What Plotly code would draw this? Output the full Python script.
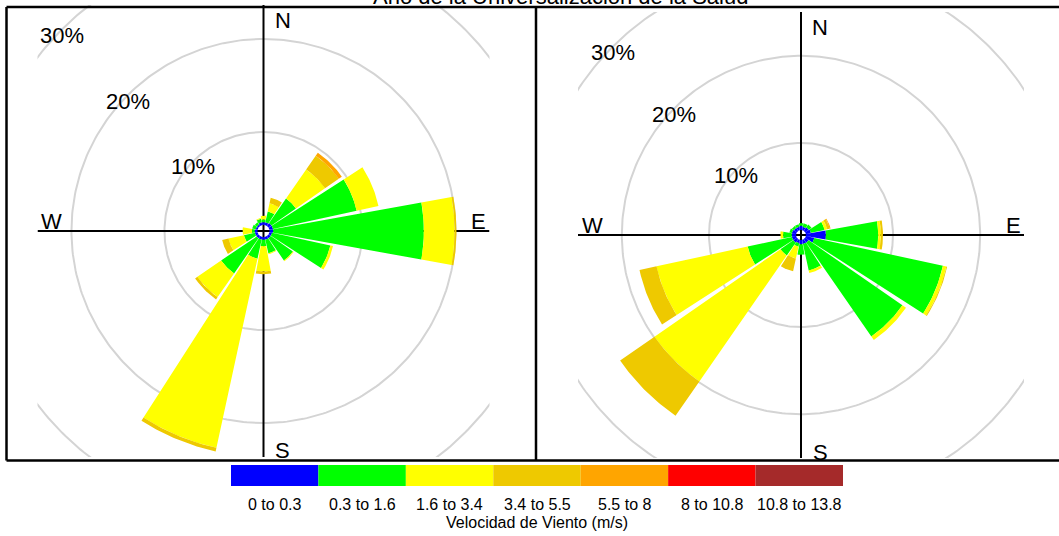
import numpy as np
import plotly.graph_objects as go

# ---------------------------------------------------------------------------
# Data: wind frequency (%) by direction and speed class, two wind roses
# ---------------------------------------------------------------------------
directions = [0, 22.5, 45, 67.5, 90, 112.5, 135, 157.5,
              180, 202.5, 225, 247.5, 270, 292.5, 315, 337.5]

speed_bins = ["0 to 0.3", "0.3 to 1.6", "1.6 to 3.4", "3.4 to 5.5",
              "5.5 to 8", "8 to 10.8", "10.8 to 13.8"]
bin_colors = ["#0000FF", "#00FF00", "#FFFF00", "#EEC900",
              "#FFA500", "#FF0000", "#A52A2A"]

# left rose, one list per speed class (order of `directions`)
left_bin1 = [0.3, 0.3, 0.4, 0.4, 0.4, 0.3, 0.3, 0.3, 0.3, 0.3, 0.3, 0.3, 0.3, 0.2, 0.2, 0.3]
left_bin2 = [0.3, 1.2, 3.2, 9.2, 16.2, 6.4, 2.9, 1.5, 0.7, 2.1, 4.6, 1.2, 0.3, 0.4, 0.3, 0.4]
left_bin3 = [0.4, 0.9, 3.8, 2.4, 3.3, 0.3, 0.1, 0.1, 2.7, 20.8, 3.1, 1.7, 1.0, 0.0, 0.0, 0.1]
left_bin4 = [0.0, 0.6, 1.8, 0.0, 0.2, 0.0, 0.0, 0.0, 0.3, 0.4, 0.3, 0.7, 0.0, 0.0, 0.0, 0.0]
left_bin5 = [0.0, 0.0, 0.4, 0.0, 0.0, 0.0, 0.0, 0.0, 0.0, 0.0, 0.0, 0.0, 0.0, 0.0, 0.0, 0.0]
left_bin6 = [0.0] * 16
left_bin7 = [0.0] * 16

# right rose
right_bin1 = [0.5, 0.4, 0.5, 0.6, 2.3, 1.0, 0.5, 0.5, 0.5, 0.4, 0.5, 0.5, 0.5, 0.5, 0.4, 0.4]
right_bin2 = [0.3, 0.4, 0.4, 1.6, 6.0, 15.1, 13.1, 3.1, 1.2, 0.4, 1.8, 5.2, 1.0, 0.3, 0.3, 0.3]
right_bin3 = [0.0, 0.0, 0.0, 0.3, 0.3, 0.4, 0.5, 0.3, 0.0, 1.4, 17.6, 10.7, 0.3, 0.0, 0.0, 0.0]
right_bin4 = [0.0, 0.0, 0.0, 0.3, 0.25, 0.1, 0.0, 0.0, 0.0, 1.5, 4.8, 2.0, 0.0, 0.0, 0.0, 0.0]
right_bin5 = [0.0, 0.0, 0.0, 0.1, 0.0, 0.0, 0.0, 0.0, 0.0, 0.0, 0.0, 0.0, 0.0, 0.0, 0.0, 0.0]
right_bin6 = [0.0] * 16
right_bin7 = [0.0] * 16

grid_levels = [10, 20, 30]
grid_labels = ["10%", "20%", "30%"]
compass = ["N", "E", "S", "W"]

title_text = "Año de la Universalización de la Salud"
legend_title = "Velocidad de Viento (m/s)"

# ---------------------------------------------------------------------------
# Layout constants
# ---------------------------------------------------------------------------
W, H = 1059, 536
FONT = "Liberation Sans, Arial, sans-serif"
HALF_WIDTH = 10.25          # half angular width of each wedge (deg)

panels = [
    dict(bins=[left_bin1, left_bin2, left_bin3, left_bin4, left_bin5, left_bin6, left_bin7],
         xa="x", ya="y", cx=263.5, cy=231.0, half_px=226.0, rng=24.3, off=0.65),
    dict(bins=[right_bin1, right_bin2, right_bin3, right_bin4, right_bin5, right_bin6, right_bin7],
         xa="x2", ya="y2", cx=801.0, cy=235.0, half_px=223.0, rng=25.6, off=0.57),
]


def px_x(p):
    return p / W


def px_y(q):
    return 1 - q / H


def sector(theta_c, r0, r1, n=30):
    t = np.radians(np.linspace(theta_c - HALF_WIDTH, theta_c + HALF_WIDTH, n))
    xo, yo = r1 * np.sin(t), r1 * np.cos(t)
    xi, yi = r0 * np.sin(t[::-1]), r0 * np.cos(t[::-1])
    xs = list(xo) + list(xi) + [xo[0]]
    ys = list(yo) + list(yi) + [yo[0]]
    return xs, ys


fig = go.Figure()
annotations = []
layout_axes = {}

for i, p in enumerate(panels):
    R, off = p["rng"], p["off"]
    xa, ya = p["xa"], p["ya"]

    # grid circles
    th = np.radians(np.linspace(0, 360, 361))
    for lev in grid_levels:
        r = off + lev
        fig.add_trace(go.Scatter(x=r * np.sin(th), y=r * np.cos(th), mode="lines",
                                 line=dict(color="#d4d4d4", width=2),
                                 hoverinfo="skip", showlegend=False,
                                 xaxis=xa, yaxis=ya))

    # cross axes
    fig.add_trace(go.Scatter(x=[-R, R], y=[0, 0], mode="lines",
                             line=dict(color="black", width=2),
                             hoverinfo="skip", showlegend=False, xaxis=xa, yaxis=ya))
    fig.add_trace(go.Scatter(x=[0, 0], y=[-R, R], mode="lines",
                             line=dict(color="black", width=2),
                             hoverinfo="skip", showlegend=False, xaxis=xa, yaxis=ya))

    # stacked wedges, one trace per speed class
    cum = np.zeros(len(directions))
    for b, vals in enumerate(p["bins"]):
        vals = np.asarray(vals, dtype=float)
        xs, ys = [], []
        for d, (ang, v) in enumerate(zip(directions, vals)):
            if v <= 0:
                continue
            sx, sy = sector(ang, off + cum[d], off + cum[d] + v)
            xs += sx + [None]
            ys += sy + [None]
        cum += vals
        if xs:
            fig.add_trace(go.Scatter(x=xs, y=ys, mode="lines", fill="toself",
                                     fillcolor=bin_colors[b], line=dict(width=0),
                                     name=speed_bins[b], hoverinfo="skip",
                                     showlegend=False, xaxis=xa, yaxis=ya))

    # percentage labels along the NW diagonal
    for lev, lab in zip(grid_levels, grid_labels):
        r = off + lev
        annotations.append(dict(x=-r * np.sin(np.radians(45)), y=r * np.cos(np.radians(45)),
                                xref=xa, yref=ya, text=lab, showarrow=False,
                                xanchor="center", yanchor="middle", yshift=-6,
                                font=dict(family=FONT, size=22, color="black")))

    # compass labels
    comp_pos = {"N": (0, R, 19, -16), "S": (0, -R, 19, 6),
                "W": (-R, 0, 14, 9), "E": (R, 0, -11, 9)}
    for c in compass:
        x, y, xs_, ys_ = comp_pos[c]
        annotations.append(dict(x=x, y=y, xref=xa, yref=ya, text=c, showarrow=False,
                                xanchor="center", yanchor="middle",
                                xshift=xs_, yshift=ys_,
                                font=dict(family=FONT, size=22, color="black")))

    # axes geometry (square plotting area)
    cx, cy, hp = p["cx"], p["cy"], p["half_px"]
    suffix = "" if i == 0 else str(i + 1)
    layout_axes["xaxis" + suffix] = dict(domain=[px_x(cx - hp), px_x(cx + hp)],
                                         range=[-R, R], visible=False, fixedrange=True,
                                         anchor="y" + suffix)
    layout_axes["yaxis" + suffix] = dict(domain=[px_y(cy + hp), px_y(cy - hp)],
                                         range=[-R, R], visible=False, fixedrange=True,
                                         anchor="x" + suffix)

# ---------------------------------------------------------------------------
# Panel frames
# ---------------------------------------------------------------------------
shapes = []
frame = dict(color="black", width=2.5)
for (x0, y0, x1, y1) in [(6.5, 7, 1070, 7), (6.5, 460.5, 1070, 460.5),
                         (6.5, 7, 6.5, 460.5), (536, 7, 536, 460.5)]:
    shapes.append(dict(type="line", xref="paper", yref="paper",
                       x0=px_x(x0), y0=px_y(y0), x1=px_x(x1), y1=px_y(y1), line=frame))

# ---------------------------------------------------------------------------
# Colour key for the speed classes
# ---------------------------------------------------------------------------
key_left, key_right, key_top, key_bottom = 231, 843, 465, 486
step = (key_right - key_left) / len(speed_bins)
for b, (lab, col) in enumerate(zip(speed_bins, bin_colors)):
    x0 = key_left + b * step
    shapes.append(dict(type="rect", xref="paper", yref="paper",
                       x0=px_x(x0), x1=px_x(x0 + step),
                       y0=px_y(key_bottom), y1=px_y(key_top),
                       fillcolor=col, line=dict(width=0)))
    annotations.append(dict(x=px_x(x0 + step / 2), y=px_y(504), xref="paper", yref="paper",
                            text=lab, showarrow=False, xanchor="center", yanchor="middle",
                            font=dict(family=FONT, size=16, color="black")))
annotations.append(dict(x=px_x(537), y=px_y(522), xref="paper", yref="paper",
                        text=legend_title, showarrow=False, xanchor="center", yanchor="middle",
                        font=dict(family=FONT, size=16, color="black")))

# title (sits mostly above the page edge)
annotations.append(dict(x=px_x(560), y=px_y(-4), xref="paper", yref="paper",
                        text=title_text, showarrow=False, xanchor="center", yanchor="middle",
                        font=dict(family=FONT, size=22, color="black")))

fig.update_layout(width=W, height=H, margin=dict(l=0, r=0, t=0, b=0),
                  paper_bgcolor="white", plot_bgcolor="white",
                  showlegend=False, shapes=shapes, annotations=annotations,
                  **layout_axes)

fig.write_html("out.html")
